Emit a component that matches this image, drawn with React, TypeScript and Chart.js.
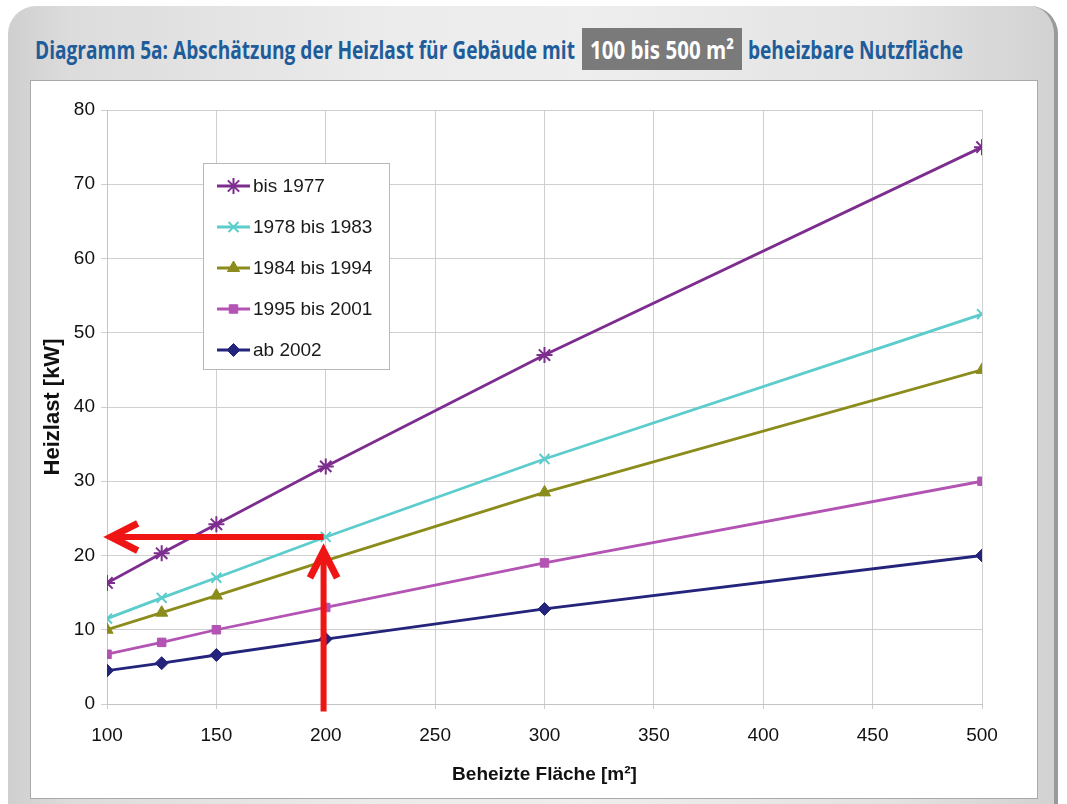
import React, { useEffect, useRef } from "react";
import { Chart, registerables } from "chart.js";
import { drawPoint } from "chart.js/helpers";

Chart.register(...registerables);

// ---- data ----
const areas = [100, 125, 150, 200, 300, 500];
const seriesLabels = ["bis 1977", "1978 bis 1983", "1984 bis 1994", "1995 bis 2001", "ab 2002"];
const bis1977 = [16.3, 20.3, 24.2, 32, 47, 75];
const from1978to1983 = [11.5, 14.3, 17, 22.5, 33, 52.5];
const from1984to1994 = [10, 12.3, 14.6, 19.3, 28.5, 45];
const from1995to2001 = [6.7, 8.3, 10, 13, 19, 30];
const ab2002 = [4.5, 5.5, 6.6, 8.75, 12.8, 20];
const xTickValues = [100, 150, 200, 250, 300, 350, 400, 450, 500];
const yTickValues = [0, 10, 20, 30, 40, 50, 60, 70, 80];
// red reading arrows, in data units: [x, y] start -> end
const arrowUpFrom = [199, -1.0];
const arrowUpTo = [199, 20.6];
const arrowLeftFrom = [199, 22.5];
const arrowLeftTo = [101.8, 22.5];

const seriesValues = [bis1977, from1978to1983, from1984to1994, from1995to2001, ab2002];
const seriesColors = ["#7d2d8e", "#5ccccc", "#8c8c1c", "#b353b3", "#24247c"];
const seriesMarkers = ["star", "crossRot", "triangle", "rect", "rectRot"];
const seriesRadius = [8, 7, 7, 6, 6.5];

const FONT = "'Liberation Sans', Arial, sans-serif";
const TITLE_FONT = "'Open Sans', 'DejaVu Sans Condensed', sans-serif";

const arrowPlugin = {
  id: "arrows",
  afterDatasetsDraw(chart: any) {
    const { ctx, scales } = chart;
    const xs = scales.x, ys = scales.y;
    const drawArrow = (from: number[], to: number[]) => {
      const x1 = xs.getPixelForValue(from[0]);
      const y1 = ys.getPixelForValue(from[1]);
      const x2 = xs.getPixelForValue(to[0]);
      const y2 = ys.getPixelForValue(to[1]);
      const ang = Math.atan2(y2 - y1, x2 - x1);
      const wing = 30, spread = 0.47;
      ctx.save();
      ctx.strokeStyle = "#f01515";
      ctx.lineWidth = 6;
      ctx.lineCap = "butt";
      ctx.lineJoin = "miter";
      ctx.beginPath();
      ctx.moveTo(x1, y1);
      ctx.lineTo(x2, y2);
      ctx.stroke();
      ctx.lineWidth = 7;
      ctx.beginPath();
      ctx.moveTo(x2 - wing * Math.cos(ang - spread), y2 - wing * Math.sin(ang - spread));
      ctx.lineTo(x2, y2);
      ctx.lineTo(x2 - wing * Math.cos(ang + spread), y2 - wing * Math.sin(ang + spread));
      ctx.stroke();
      ctx.restore();
    };
    drawArrow(arrowUpFrom, arrowUpTo);
    drawArrow(arrowLeftFrom, arrowLeftTo);
  },
};

const legendPlugin = {
  id: "boxLegend",
  afterDraw(chart: any) {
    const { ctx } = chart;
    const bx = 203, by = 163, bw = 186, bh = 206;
    ctx.save();
    ctx.fillStyle = "#ffffff";
    ctx.fillRect(bx, by, bw, bh);
    ctx.strokeStyle = "#b8b8b8";
    ctx.lineWidth = 1;
    ctx.strokeRect(bx + 0.5, by + 0.5, bw, bh);
    chart.data.datasets.forEach((ds: any, i: number) => {
      const cy = 186 + i * 41;
      ctx.strokeStyle = ds.borderColor;
      ctx.lineWidth = 2.8;
      ctx.beginPath();
      ctx.moveTo(217, cy);
      ctx.lineTo(250, cy);
      ctx.stroke();
      ctx.fillStyle = ds.pointBackgroundColor;
      ctx.strokeStyle = ds.pointBorderColor;
      ctx.lineWidth = ds.pointBorderWidth;
      drawPoint(ctx, { pointStyle: ds.pointStyle, radius: ds.pointRadius, borderWidth: ds.pointBorderWidth, rotation: 0 }, 233.5, cy);
      ctx.fillStyle = "#1a1a1a";
      ctx.font = `19px ${FONT}`;
      ctx.textBaseline = "middle";
      ctx.textAlign = "left";
      ctx.fillText(ds.label, 253, cy + 1);
    });
    ctx.restore();
  },
};

function FitText({ text, left, width, color, bg, boxWidth }: { text: string; left: number; width: number; color: string; bg?: string; boxWidth?: number }) {
  const inner = useRef<HTMLSpanElement | null>(null);
  useEffect(() => {
    const el = inner.current;
    if (!el) return;
    el.style.transform = "none";
    const w = el.getBoundingClientRect().width;
    if (w > 0) el.style.transform = `scaleX(${width / w})`;
  }, [text, width]);
  const bw = boxWidth ?? width;
  return (
    <div
      style={{
        position: "absolute",
        left,
        top: 28,
        width: bw,
        height: 42,
        background: bg ?? "transparent",
        overflow: "visible",
      }}
    >
      <span
        ref={inner}
        style={{
          position: "absolute",
          left: (bw - width) / 2,
          top: 0,
          lineHeight: "42px",
          whiteSpace: "nowrap",
          fontFamily: TITLE_FONT,
          fontWeight: "bold",
          fontSize: 25,
          color,
          transformOrigin: "0 50%",
          display: "inline-block",
        }}
      >
        {text}
      </span>
    </div>
  );
}

export default function App() {
  const ref = useRef<HTMLCanvasElement | null>(null);

  useEffect(() => {
    if (!ref.current) return;
    const datasets = seriesLabels.map((label, i) => ({
      label,
      data: areas.map((a, j) => ({ x: a, y: seriesValues[i][j] })),
      borderColor: seriesColors[i],
      backgroundColor: seriesColors[i],
      borderWidth: 2.8,
      pointStyle: seriesMarkers[i],
      pointRadius: seriesRadius[i],
      pointBorderWidth: i < 2 ? 2 : 1,
      pointBackgroundColor: seriesColors[i],
      pointBorderColor: seriesColors[i],
      tension: 0,
      fill: false,
    }));
    const chart = new Chart(ref.current, {
      type: "line",
      data: { datasets },
      plugins: [arrowPlugin, legendPlugin],
      options: {
        animation: false,
        responsive: false,
        maintainAspectRatio: false,
        layout: { padding: { left: 30, right: 85, top: 110, bottom: 0 } },
        plugins: { legend: { display: false }, tooltip: { enabled: false }, title: { display: false } },
        scales: {
          x: {
            type: "linear",
            min: 100,
            max: 500,
            afterBuildTicks: (scale: any) => {
              scale.ticks = xTickValues.map((v) => ({ value: v }));
            },
            afterFit: (scale: any) => {
              scale.height = 100;
            },
            grid: { color: "#cfcfcf", lineWidth: 1, tickLength: 5, drawTicks: true },
            border: { color: "#c4c4c4", width: 1 },
            ticks: { color: "#111111", font: { family: FONT, size: 19 }, padding: 15, maxRotation: 0, autoSkip: false },
            title: {
              display: true,
              text: "Beheizte Fläche [m²]",
              color: "#111111",
              font: { family: FONT, size: 19, weight: "bold" },
              padding: { top: 0, bottom: 18 },
            },
          },
          y: {
            type: "linear",
            min: 0,
            max: 80,
            afterBuildTicks: (scale: any) => {
              scale.ticks = yTickValues.map((v) => ({ value: v }));
            },
            afterFit: (scale: any) => {
              scale.width = 77;
            },
            grid: { color: "#cfcfcf", lineWidth: 1, tickLength: 6, drawTicks: true },
            border: { color: "#c4c4c4", width: 1 },
            ticks: { color: "#111111", font: { family: FONT, size: 19 }, padding: 6, autoSkip: false },
            title: {
              display: true,
              text: "Heizlast [kW]",
              color: "#111111",
              font: { family: FONT, size: 22, weight: "bold" },
              padding: { top: 10, bottom: 0 },
            },
          },
        },
      } as any,
    });
    return () => chart.destroy();
  }, []);

  return (
    <div style={{ position: "absolute", left: 0, top: 0, width: 1067, height: 804, overflow: "hidden", background: "#ffffff" }}>
      <div
        style={{
          position: "absolute",
          left: 8,
          top: 6,
          width: 1050,
          height: 840,
          borderRadius: 28,
          background: "linear-gradient(90deg, #cfcfcf 0%, #dcdcdc 6%, #ebebeb 35%, #eeeeee 55%, #e2e2e2 85%, #d2d2d2 100%)",
          borderRight: "4px solid #9a9a9a",
          boxSizing: "border-box",
        }}
      />
      <div
        style={{
          position: "absolute",
          left: 30,
          top: 80,
          width: 1008,
          height: 719,
          background: "#ffffff",
          border: "1px solid #a9a9a9",
          boxSizing: "border-box",
        }}
      />
      <FitText text="Diagramm 5a: Abschätzung der Heizlast für Gebäude mit" left={35} width={540} color="#1e5c9a" />
      <FitText text="100 bis 500 m²" left={582} width={144} boxWidth={160} color="#ffffff" bg="#7a7a7a" />
      <FitText text="beheizbare Nutzfläche" left={748} width={215} color="#1e5c9a" />
      <canvas ref={ref} width={1067} height={804} style={{ position: "absolute", left: 0, top: 0, width: 1067, height: 804 }} />
    </div>
  );
}
